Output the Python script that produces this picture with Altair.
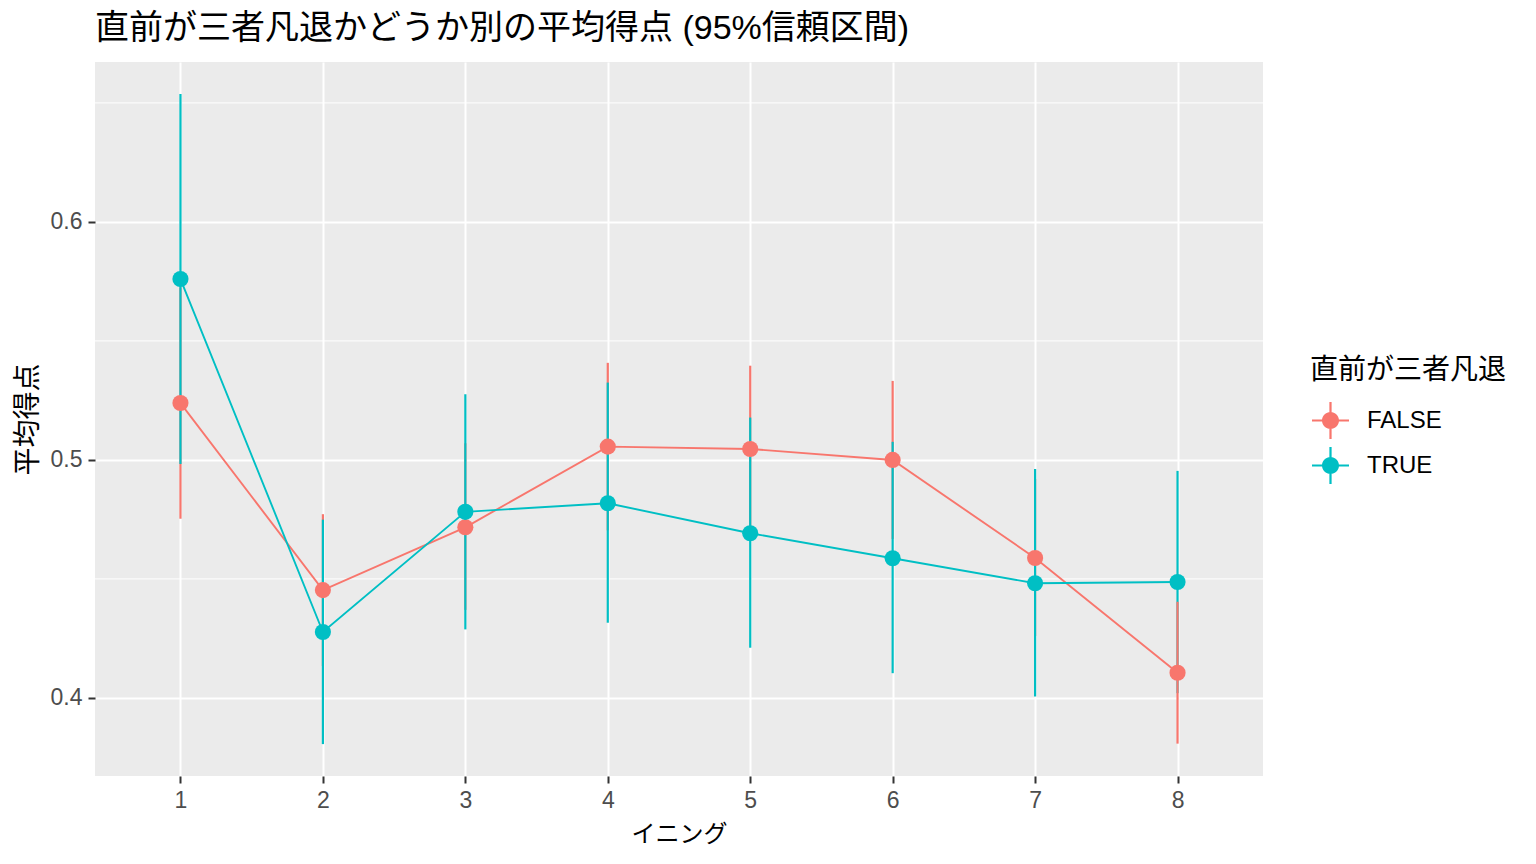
import altair as alt
import pandas as pd

# ---- data ----
innings = [1, 2, 3, 4, 5, 6, 7, 8]
groups = ["FALSE", "TRUE"]

false_mean = [0.5239, 0.4453, 0.4717, 0.5056, 0.5046, 0.5000, 0.4588, 0.4106]
false_lower = [0.4753, 0.4134, 0.4370, 0.4704, 0.4696, 0.4668, 0.4260, 0.3808]
false_upper = [0.5725, 0.4772, 0.5070, 0.5408, 0.5396, 0.5332, 0.4920, 0.4404]

true_mean = [0.5760, 0.4277, 0.4782, 0.4818, 0.4692, 0.4587, 0.4482, 0.4487]
true_lower = [0.4983, 0.3806, 0.4288, 0.4316, 0.4211, 0.4104, 0.4006, 0.4020]
true_upper = [0.6538, 0.4749, 0.5276, 0.5325, 0.5178, 0.5076, 0.4962, 0.4954]

# drawing order of error bars within each inning (1 = FALSE drawn on top)
false_bar_on_top = [0, 0, 0, 0, 0, 0, 0, 1]

y_major = [0.4, 0.5, 0.6]
y_minor = [0.45, 0.55, 0.65]
y_domain = [0.3672, 0.6672]
x_domain = [0.4, 8.6]

colors = ["#F8766D", "#00BFC4"]

title_text = "直前が三者凡退かどうか別の平均得点 (95%信頼区間)"
x_title = "イニング"
y_title = "平均得点"
legend_title = "直前が三者凡退"

FONT = "Liberation Sans, Arial, 'Noto Sans CJK JP', sans-serif"

# ---- build tables ----
rows = []
for i, inn in enumerate(innings):
    rows.append(dict(inning=inn, group="FALSE", mean=false_mean[i],
                     lower=false_lower[i], upper=false_upper[i],
                     draw=i * 2 + (1 if false_bar_on_top[i] else 0)))
    rows.append(dict(inning=inn, group="TRUE", mean=true_mean[i],
                     lower=true_lower[i], upper=true_upper[i],
                     draw=i * 2 + (0 if false_bar_on_top[i] else 1)))
df = pd.DataFrame(rows)
df_bars = df.sort_values("draw").reset_index(drop=True)
df_pts = df.sort_values(["group", "inning"]).reset_index(drop=True)
df_minor = pd.DataFrame({"v": y_minor})

# same mapping; listed in reverse so the (hidden) stroke legend is not merged
stroke_scale = alt.Scale(domain=groups[::-1], range=colors[::-1])
fill_scale = alt.Scale(domain=groups, range=colors)
x_scale = alt.Scale(domain=x_domain, nice=False, zero=False)
y_scale = alt.Scale(domain=y_domain, nice=False, zero=False)

x_axis = alt.Axis(values=innings, format="d", grid=True, gridColor="white",
                  gridWidth=2, domain=False, tickColor="#333333", tickSize=7,
                  tickWidth=2, labelColor="#4D4D4D", labelFontSize=23,
                  labelPadding=6, labelFont=FONT, title=x_title,
                  titleFontSize=24, titleFont=FONT, titleColor="black",
                  titleFontWeight="normal", titlePadding=10)
y_axis = alt.Axis(values=y_major, format=".1f", grid=True, gridColor="white",
                  gridWidth=2, domain=False, tickColor="#333333", tickSize=7,
                  tickWidth=2, labelColor="#4D4D4D", labelFontSize=23,
                  labelPadding=6, labelFont=FONT, title=y_title,
                  titleFontSize=28, titleFont=FONT, titleColor="black",
                  titleFontWeight="normal", titlePadding=8)

key_path = ("M-1,-0.06H1V0.06H-1Z "
            "M-0.06,-1H0.06V1H-0.06Z "
            "M-0.46,0A0.46,0.46 0 1,1 0.46,0A0.46,0.46 0 1,1 -0.46,0Z")

legend = alt.Legend(title=legend_title, orient="none", legendX=1215,
                    legendY=295, titleFontSize=28, titleFont=FONT,
                    titleFontWeight="normal", titleColor="black",
                    titleLimit=400, labelLimit=300,
                    labelFontSize=24, labelFont=FONT, labelColor="black",
                    symbolType=key_path, symbolSize=1369, symbolStrokeWidth=0,
                    symbolOpacity=1, padding=0, rowPadding=8, titlePadding=17,
                    labelOffset=18, symbolOffset=2)

minor = alt.Chart(df_minor).mark_rule(color="white", strokeWidth=1).encode(
    y=alt.Y("v:Q", scale=y_scale, axis=y_axis)
)

base = alt.Chart(df_pts)

lines = base.mark_line(strokeWidth=1.9).encode(
    x=alt.X("inning:Q", scale=x_scale, axis=x_axis),
    y=alt.Y("mean:Q", scale=y_scale, axis=y_axis),
    stroke=alt.Stroke("group:N", scale=stroke_scale, legend=None),
)

bars = alt.Chart(df_bars).mark_rule(strokeWidth=2.2).encode(
    x=alt.X("inning:Q", scale=x_scale, axis=x_axis),
    y=alt.Y("lower:Q", scale=y_scale, axis=y_axis),
    y2="upper:Q",
    stroke=alt.Stroke("group:N", scale=stroke_scale, legend=None),
)

points = base.mark_point(filled=True, size=260, opacity=1,
                         shape="circle").encode(
    x=alt.X("inning:Q", scale=x_scale, axis=x_axis),
    y=alt.Y("mean:Q", scale=y_scale, axis=y_axis),
    fill=alt.Fill("group:N", scale=fill_scale, legend=legend),
)

chart = alt.layer(minor, lines, bars, points).properties(
    width=1168,
    height=714,
    title=alt.TitleParams(title_text, anchor="start", frame="group",
                          fontSize=34, fontWeight="normal", color="black",
                          font=FONT, baseline="alphabetic", offset=20, dy=31),
    autosize=alt.AutoSizeParams(type="none"),
    padding={"left": 87, "top": 54, "right": 250, "bottom": 80},
).configure(
    background="white"
).configure_view(
    fill="#EBEBEB", strokeWidth=0
)

chart.save("out.html", embed_options={"renderer": "svg", "actions": False})
